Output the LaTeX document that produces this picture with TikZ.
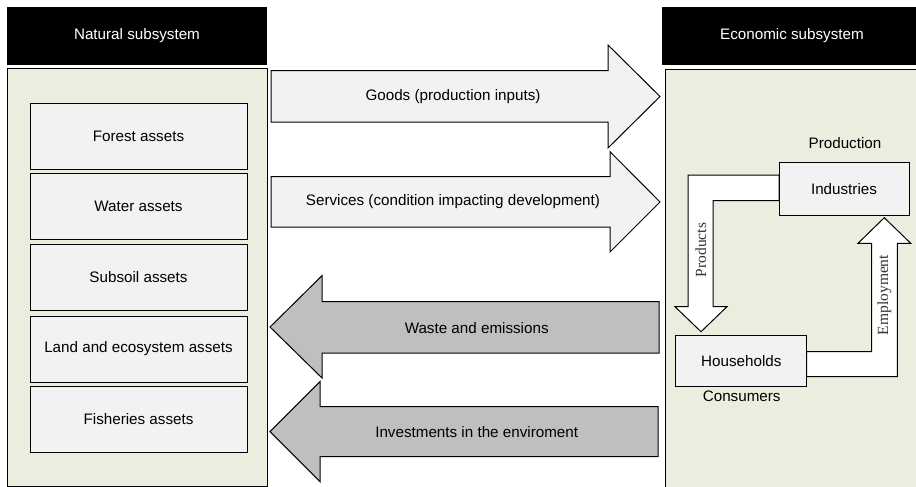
\documentclass[tikz,border=0pt]{standalone}
\usepackage{fontspec}
\setmainfont{Liberation Sans}
\newfontfamily\serifft{Liberation Serif}
\definecolor{envgreen}{HTML}{EBEEDE}
\definecolor{boxgray}{HTML}{F2F2F2}
\definecolor{darkarrow}{HTML}{BFBFBF}
\begin{document}
\begin{tikzpicture}[x=1pt,y=-1pt,
  font=\fontsize{15.2}{18}\selectfont,
  outline/.style={draw=black, line width=1pt},
  header/.style={fill=black, text=white, inner sep=0pt, minimum width=260pt, minimum height=58pt},
  panel/.style={outline, fill=envgreen, inner sep=0pt, minimum width=260pt},
  asset/.style={outline, fill=boxgray, minimum width=217pt, minimum height=66pt, inner sep=0pt},
  actor/.style={outline, fill=boxgray, inner sep=0pt},
  bigright/.style={outline, fill=boxgray},
  bigleft/.style={outline, fill=darkarrow},
  flow/.style={outline, fill=white},
  flowlabel/.style={rotate=90, text=black!80, font=\serifft\fontsize{15.5}{17}\selectfont, inner sep=0pt}
]
\useasboundingbox (0,0) rectangle (916,487);
\clip (0,0) rectangle (916,487);

% headers
\node[header] (nathead) at (137,36) {Natural subsystem};
\node[header] (ecohead) at (792,36) {Economic subsystem};

% panels
\node[panel, minimum height=417pt] (natbox) at (137,277.5) {};
\node[panel, minimum height=425pt] (ecobox) at (795,282.5) {};

% assets
\node[asset] (forest) at (138.5,136) {Forest assets};
\node[asset] (water) at (138.5,206.5) {Water assets};
\node[asset] (subsoil) at (138.5,277.5) {Subsoil assets};
\node[asset] (land) at (138.5,349) {Land and ecosystem assets};
\node[asset] (fish) at (138.5,419.5) {Fisheries assets};

% big arrows
\draw[bigright] (271,70.7) -- (608,70.7) -- (608,45) -- (660,96.5) -- (608,148) -- (608,122) -- (271,122) -- cycle;
\node (goods) at (453,96.5) {Goods (production inputs)};
\draw[bigright] (271,176.7) -- (610,176.7) -- (610,151.7) -- (660,202) -- (610,252) -- (610,227) -- (271,227) -- cycle;
\node (services) at (453,202) {Services (condition impacting development)};
\draw[bigleft] (659,301.7) -- (322,301.7) -- (322,275.7) -- (270,327) -- (322,378) -- (322,353) -- (659,353) -- cycle;
\node (waste) at (476.7,328) {Waste and emissions};
\draw[bigleft] (658,406.7) -- (320,406.7) -- (320,381.7) -- (270,431.7) -- (320,481.7) -- (320,456.7) -- (658,456.7) -- cycle;
\node (invest) at (476.7,432) {Investments in the enviroment};

% economic circuit flows
\draw[flow] (779,175) -- (688,175) -- (688,306.7) -- (675,306.7) -- (701,331.7) -- (727,306.7) -- (713,306.7) -- (713,200.7) -- (779,200.7) -- cycle;
\draw[flow] (806.7,351.7) -- (871.7,351.7) -- (871.7,243.3) -- (858,243.3) -- (884.3,217.7) -- (910.7,243.3) -- (897.3,243.3) -- (897.3,376.7) -- (806.7,376.7) -- cycle;

% actors
\node[actor, minimum width=130pt, minimum height=53pt] (ind) at (844,189.2) {Industries};
\node[actor, minimum width=130.7pt, minimum height=50.3pt] (hh) at (741.3,360.9) {Households};
\node (prod) at (845,142.7) {Production};
\node (cons) at (741.7,396) {Consumers};
\node[flowlabel] (products) at (700.7,250) {Products};
\node[flowlabel] (employment) at (884.3,295) {Employment};
\end{tikzpicture}
\end{document}
